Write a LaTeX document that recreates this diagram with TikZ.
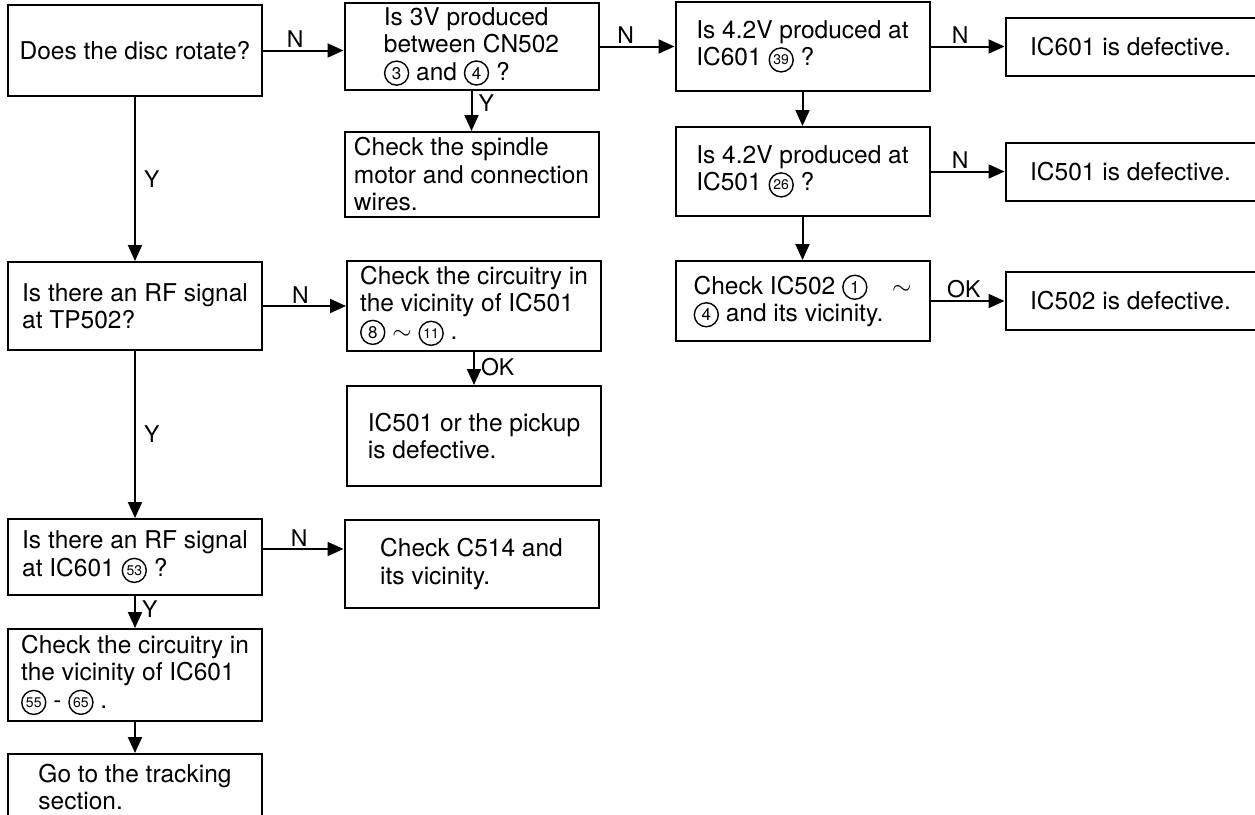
\documentclass[tikz,border=0pt]{standalone}
\usepackage{fontspec}
\setmainfont{TeX Gyre Heros}
\usetikzlibrary{positioning,arrows.meta}

\tikzset{
  chk/.style={draw, rectangle, line width=2pt, minimum width=254pt, inner sep=2pt,
    align=left, font=\fontsize{24.5}{27.5}\selectfont},
  bad/.style={chk, minimum width=250pt, minimum height=58pt, align=center},
  flow/.style={line width=2pt, -{Triangle[length=16pt,width=14pt]}},
  lab/.style={font=\fontsize{23}{23}\selectfont, inner sep=2pt},
  circnum/.style={draw, circle, line width=1.4pt, inner sep=0pt, minimum width=24pt, minimum height=24pt}
}
\newcommand{\cnum}[2][17]{\tikz[baseline={([yshift=-1pt]cn.base)}]\node[circnum, font=\fontsize{#1}{#1}\selectfont] (cn) {#2};}

\begin{document}
\begin{tikzpicture}[x=1pt, y=-1pt]
\useasboundingbox (0,0) rectangle (1255,814);

\node[chk, minimum height=91pt] (rot) at (135,50.5) {Does the disc rotate?};
\node[chk, minimum height=88pt, below=164pt of rot] (rf1) {Is there an RF signal\\at TP502?};
\node[chk, minimum height=76pt, below=167pt of rf1] (rf2) {Is there an RF signal\\at IC601 \cnum[14]{53} ?};
\node[chk, minimum height=92pt, below=32pt of rf2] (ckic) {Check the circuitry in\\the vicinity of IC601\\\cnum[14]{55} - \cnum[14]{65} .};
\node[chk, minimum height=66pt, below=31pt of ckic] (track) {Go to the tracking\\section.};

\node[chk, minimum height=87pt] (v3) at (471.5,46.5) {Is 3V produced\\between CN502\\\cnum{3} and \cnum{4} ?};
\node[chk, minimum height=85pt, below=40pt of v3] (spin) {Check the spindle\\motor and connection\\wires.};
\node[chk, minimum height=90pt, right=83pt of rf1] (ckpu) {Check the circuitry in\\the vicinity of IC501\\\cnum{8} $\sim$ \cnum[14]{11} .};
\node[chk, minimum height=100pt, below=33pt of ckpu] (pick) {IC501 or the pickup\\is defective.};
\node[chk, minimum height=88pt] (c514) at (471.5,564) {Check C514 and\\its vicinity.};

\node[chk, minimum height=89pt, right=75pt of v3] (v601) {Is 4.2V produced at\\IC601 \cnum[14]{39} ?};
\node[chk, minimum height=89pt, below=34pt of v601] (v501) {Is 4.2V produced at\\IC501 \cnum[14]{26} ?};
\node[chk, minimum height=80pt, below=43pt of v501] (ck502) {Check IC502 \cnum{1}\quad$\sim$\\\cnum{4} and its vicinity.};

\node[bad, right=74pt of v601] (d601) {IC601 is defective.};
\node[bad, right=74pt of v501] (d501) {IC501 is defective.};
\node[bad, right=74pt of ck502] (d502) {IC502 is defective.};

\draw[flow] (rot) -- (rf1) node[lab, midway, right=6pt] {Y};
\draw[flow] (rot.east) -- (rot.east -| v3.west) node[lab, pos=0.4, above] {N};
\draw[flow] (v3) -- (spin) node[lab, pos=0.3, right=4pt] {Y};
\draw[flow] (v3.east) -- (v3.east -| v601.west) node[lab, pos=0.35, above] {N};
\draw[flow] (v601) -- (d601) node[lab, pos=0.4, above] {N};
\draw[flow] (v601) -- (v501);
\draw[flow] (v501) -- (d501) node[lab, pos=0.4, above] {N};
\draw[flow] (v501) -- (ck502);
\draw[flow] (ck502) -- (d502) node[lab, pos=0.45, above] {OK};
\draw[flow] (rf1) -- (ckpu) node[lab, pos=0.45, above] {N};
\draw[flow] (ckpu) -- (pick) node[lab, pos=0.45, right=4pt] {OK};
\draw[flow] (rf1) -- (rf2) node[lab, midway, right=6pt] {Y};
\draw[flow] ([yshift=8pt]rf2.east) -- ([yshift=8pt]rf2.east -| c514.west) node[lab, pos=0.45, above] {N};
\draw[flow] (rf2) -- (ckic) node[lab, pos=0.4, right=4pt] {Y};
\draw[flow] (ckic) -- (track);
\end{tikzpicture}
\end{document}
